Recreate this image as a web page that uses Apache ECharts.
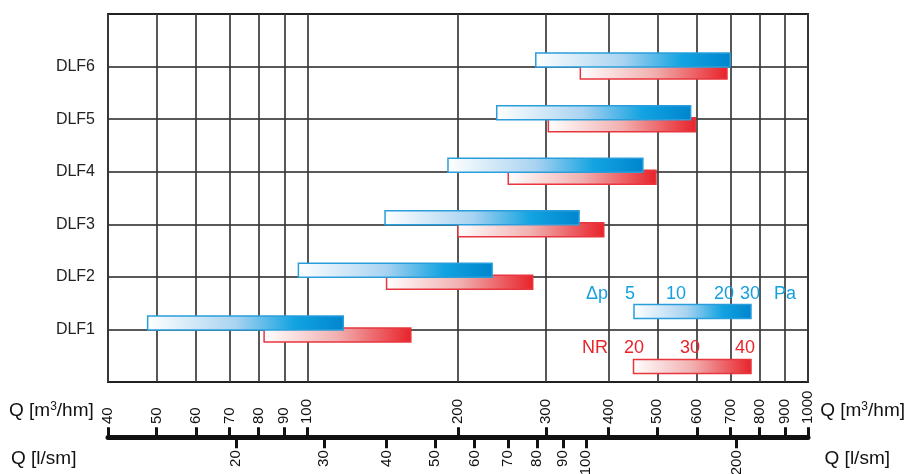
<!DOCTYPE html>
<html><head><meta charset="utf-8">
<script src="https://cdn.jsdelivr.net/npm/echarts@6/dist/echarts.min.js"></script>
<style>html,body{margin:0;padding:0;background:#fff}#c{width:910px;height:474px}</style>
</head><body><div id="c"></div>
<script>
// ---- data ----
const categories = ['DLF1', 'DLF2', 'DLF3', 'DLF4', 'DLF5', 'DLF6'];
const dpStart = [48, 96, 143, 191, 239, 286];   // Δp bar, Q [m³/hm]
const dpEnd   = [118, 234, 349, 468, 583, 699];
const nrStart = [82, 144, 200, 252, 303, 351];  // NR bar, Q [m³/hm]
const nrEnd   = [161, 282, 391, 497, 596, 689];
const qTicks  = [40, 50, 60, 70, 80, 90, 100, 200, 300, 400, 500, 600, 700, 800, 900, 1000];
const lsTicks = [20, 30, 40, 50, 60, 70, 80, 90, 100, 200];
const dpLegendLabels = ['5', '10', '20', '30'];
const nrLegendLabels = ['20', '30', '40'];
const qUnit = 'Q [m{s|3}/hm]';
const lsUnit = 'Q [l/sm]';

// ---- styling ----
const FONT = 'Liberation Sans, Arial, sans-serif';
const BLUE_TXT = '#17a0e0';
const RED_TXT = '#e8252c';
function blueGrad() {
  return new echarts.graphic.LinearGradient(0, 0, 1, 0, [
    {offset: 0, color: '#ffffff'},
    {offset: 0.45, color: '#a9d3f1'},
    {offset: 0.75, color: '#12a3e1'},
    {offset: 1, color: '#0085ce'}
  ]);
}
function redGrad() {
  return new echarts.graphic.LinearGradient(0, 0, 1, 0, [
    {offset: 0, color: '#ffffff'},
    {offset: 0.5, color: '#f1b0b0'},
    {offset: 1, color: '#e8222a'}
  ]);
}
function makeRender(kind) {
  return function (params, api) {
    const cat = api.value(2);
    const p0 = api.coord([api.value(0), cat]);
    const p1 = api.coord([api.value(1), cat]);
    const h = 14;
    const y = kind === 'dp' ? p0[1] - h + 0.5 : p0[1] - 1.5;
    return {
      type: 'rect',
      shape: {x: p0[0], y: y, width: p1[0] - p0[0], height: h},
      style: {
        fill: kind === 'dp' ? blueGrad() : redGrad(),
        stroke: kind === 'dp' ? '#2a9edb' : '#e8363e',
        lineWidth: 1.5
      }
    };
  };
}
const dpData = categories.map((c, i) => [dpStart[i], dpEnd[i], i + 1]);
const nrData = categories.map((c, i) => [nrStart[i], nrEnd[i], i + 1]);

// legend layout (pixels)
const LF = '18px ' + FONT;
const dpLabelX = [630, 676, 724, 750];
const nrLabelX = [634, 690, 745];
const graphics = [];
function legText(x, y, t, c) {
  graphics.push({type: 'text', x: x, y: y, z: 20, style: {text: t, fill: c, font: LF, align: 'center', verticalAlign: 'middle'}});
}
legText(597, 294, 'Δp', BLUE_TXT);
dpLegendLabels.forEach((t, i) => legText(dpLabelX[i], 294, t, BLUE_TXT));
legText(785, 294, 'Pa', BLUE_TXT);
graphics.push({type: 'rect', shape: {x: 634, y: 304.5, width: 117, height: 14}, style: {fill: blueGrad(), stroke: '#2a9edb', lineWidth: 1.5}, z: 20});
legText(595, 348, 'NR', RED_TXT);
nrLegendLabels.forEach((t, i) => legText(nrLabelX[i], 348, t, RED_TXT));
graphics.push({type: 'rect', shape: {x: 633.5, y: 359.5, width: 117.5, height: 14}, style: {fill: redGrad(), stroke: '#e8363e', lineWidth: 1.5}, z: 20});
// axis unit labels
[[9, 411, qUnit, 'left'], [905, 411, qUnit, 'right'], [11, 459, lsUnit, 'left'], [890, 459, lsUnit, 'right']].forEach(a => {
  graphics.push({type: 'text', x: a[0], y: a[1], z: 20, style: {
    text: a[2], fill: '#111', font: '19px ' + FONT, align: a[3], verticalAlign: 'middle',
    rich: {s: {fontSize: 12, fontFamily: FONT, fill: '#111', verticalAlign: 'top', padding: [0, 0, 9, 0]}}
  }});
});

const chart = echarts.init(document.getElementById('c'), null, {renderer: 'canvas'});
chart.setOption({
  animation: false,
  backgroundColor: '#fff',
  textStyle: {fontFamily: FONT},
  grid: [
    {left: 108, top: 14, width: 700, height: 368, show: true, borderColor: '#222', borderWidth: 2, backgroundColor: 'transparent'},
    {left: 108, top: 437, width: 700, height: 1}
  ],
  xAxis: [
    {
      gridIndex: 0, type: 'log', logBase: 10, min: 40, max: 1000,
      axisLine: {show: false},
      axisTick: {show: false, customValues: qTicks},
      axisLabel: {show: false},
      splitLine: {show: true, lineStyle: {color: '#3a3a3a', width: 1.7}}
    },
    {
      gridIndex: 1, type: 'log', logBase: 10, min: 40, max: 1000, position: 'top',
      axisLine: {show: true, lineStyle: {color: '#111', width: 5}},
      axisTick: {show: true, customValues: qTicks, length: 10, lineStyle: {color: '#111', width: 3}},
      axisLabel: {show: true, customValues: qTicks, rotate: 90, margin: 13, fontSize: 15, color: '#111', fontFamily: FONT, formatter: v => String(Math.round(v))},
      splitLine: {show: false}
    },
    {
      gridIndex: 1, type: 'log', logBase: 10, min: 40 / 3.6, max: 1000 / 3.6, position: 'bottom',
      axisLine: {show: false},
      axisTick: {show: true, customValues: lsTicks, length: 11, lineStyle: {color: '#111', width: 3}},
      axisLabel: {show: true, customValues: lsTicks, rotate: 90, margin: 13, fontSize: 15, color: '#111', fontFamily: FONT, formatter: v => String(Math.round(v))},
      splitLine: {show: false}
    }
  ],
  yAxis: [
    {
      gridIndex: 0, type: 'value', min: 0, max: 7, interval: 1,
      axisLine: {show: false}, axisTick: {show: false},
      axisLabel: {margin: 13, fontSize: 16, color: '#222', fontFamily: FONT,
        formatter: v => (v >= 1 && v <= categories.length) ? categories[v - 1] : ''},
      splitLine: {show: true, lineStyle: {color: '#222', width: 1.7}}
    },
    {gridIndex: 1, type: 'value', min: 0, max: 1, show: false}
  ],
  series: [
    {type: 'custom', name: 'NR', xAxisIndex: 0, yAxisIndex: 0, renderItem: makeRender('nr'), data: nrData, encode: {x: [0, 1], y: 2}, z: 3},
    {type: 'custom', name: 'Δp', xAxisIndex: 0, yAxisIndex: 0, renderItem: makeRender('dp'), data: dpData, encode: {x: [0, 1], y: 2}, z: 4}
  ],
  graphic: graphics
});
</script>
</body></html>
